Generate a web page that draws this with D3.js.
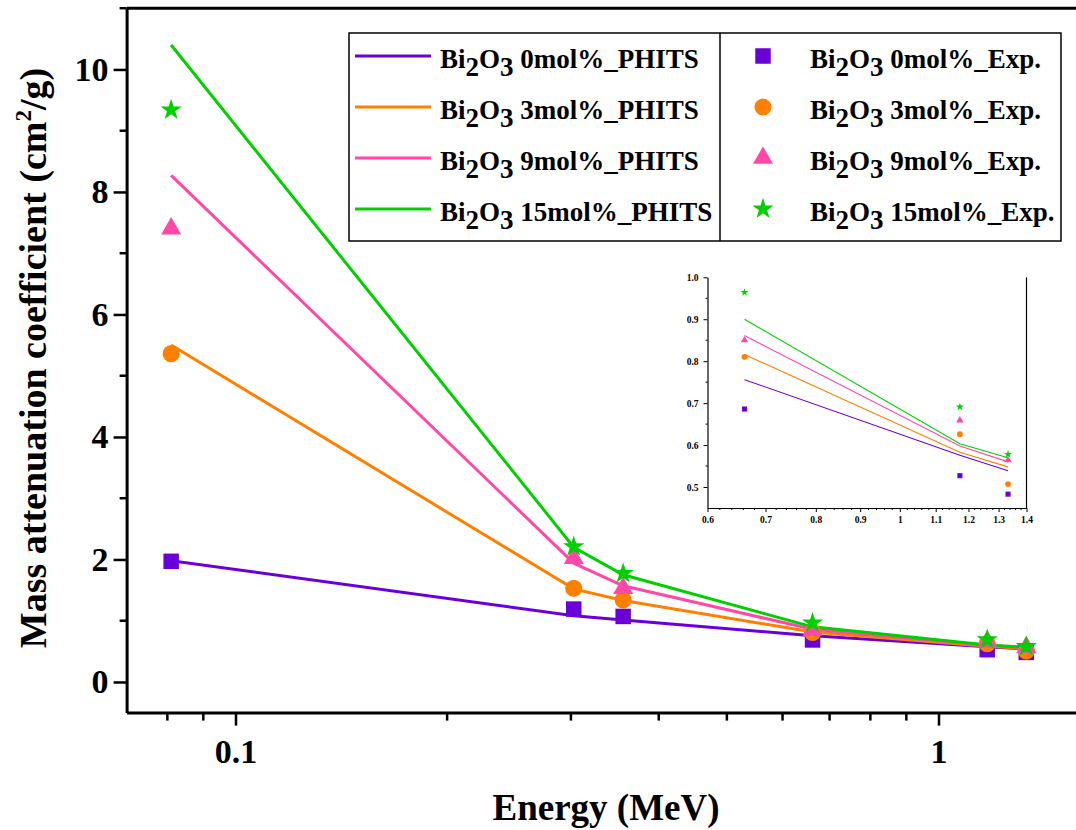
<!DOCTYPE html>
<html>
<head>
<meta charset="utf-8">
<script src="https://cdn.jsdelivr.net/npm/d3@7"></script>
<style>
  body{margin:0;background:#fff;}
  text{font-family:"Liberation Serif","Times New Roman",serif;font-weight:bold;}
</style>
</head>
<body>
<div id="grafica"></div>
<script>
// energias (MeV)
var energias=[0.081,0.3028,0.356,0.662,1.173,1.333];
var series=["Bi2O3 0mol%","Bi2O3 3mol%","Bi2O3 9mol%","Bi2O3 15mol%"];
var colores=["#6a00d8","#ff8000","#ff48a8","#00d000"];
var simbolos=[d3.symbolSquare,d3.symbolCircle,d3.symbolTriangle,d3.symbolStar];

// simulacion PHITS
var phits0=[1.98,1.08,1.01,0.756,0.576,0.539];
var phits3=[5.50,1.52,1.33,0.816,0.583,0.548];
var phits9=[8.27,1.94,1.57,0.861,0.598,0.560];
var phits15=[10.40,2.20,1.75,0.900,0.603,0.570];

// experimentales
var exp0=[1.97,1.19,1.07,0.686,0.527,0.483];
var exp3=[5.36,1.53,1.34,0.810,0.626,0.507];
var exp9=[7.40,2.02,1.53,0.850,0.659,0.564];
var exp15=[9.34,2.21,1.77,0.964,0.691,0.578];

var ticksY=[0,2,4,6,8,10];
var ticksX=[0.1,1];
var ticksInsetY=[0.5,0.6,0.7,0.8,0.9,1.0];
var ticksInsetX=[0.6,0.7,0.8,0.9,1,1.1,1.2,1.3,1.4];

grafica();
function grafica(){
	var ancho=1076, alto=830;
	var phits=[phits0,phits3,phits9,phits15];
	var exps=[exp0,exp3,exp9,exp15];

	var svg=d3.select("#grafica").append("svg")
		.attr("width",ancho).attr("height",alto);

	var x0=126.6, decada=703;
	var x=d3.scaleLog().domain([0.07,1.6])
		.range([x0,x0+decada*Math.log10(1.6/0.07)]);
	var y=d3.scaleLinear().domain([-0.5,11]).range([712.6,8.2]);

	//ejes principales
	var ejeX=svg.append("g").attr("transform",`translate(0,${y(-0.5)})`)
		.call(d3.axisBottom(x).tickValues(ticksX).tickFormat(d3.format("")).tickSize(13).tickSizeOuter(0).tickPadding(13));
	var menoresX=[0.08,0.09,0.2,0.3,0.4,0.5,0.6,0.7,0.8,0.9];
	ejeX.selectAll(".menor").data(menoresX).enter().append("line")
		.attr("class","menor").attr("x1",d=>x(d)).attr("x2",d=>x(d))
		.attr("y1",0).attr("y2",8);

	var ejeY=svg.append("g").attr("transform",`translate(${x0},0)`)
		.call(d3.axisLeft(y).tickValues(ticksY).tickSize(13).tickSizeOuter(0).tickPadding(5));
	ejeY.selectAll(".menor").data([1,3,5,7,9,11]).enter().append("line")
		.attr("class","menor").attr("y1",d=>y(d)).attr("y2",d=>y(d))
		.attr("x1",0).attr("x2",-7);

	// borde superior
	svg.append("line").attr("x1",x0).attr("x2",ancho)
		.attr("y1",y(11)).attr("y2",y(11))
		.style("stroke","#000").style("stroke-width",3);

	[ejeX,ejeY].forEach(function(e){
		e.select(".domain").style("stroke-width",3);
		e.selectAll("line").style("stroke","#000").style("stroke-width",2.5);
		e.selectAll("text").style("font-size","34px").style("fill","#000");
	});

	//titulos
	svg.append("text").attr("x",606).attr("y",820)
		.style("text-anchor","middle").style("font-size","37px")
		.text("Energy (MeV)");
	var tituloY=svg.append("text")
		.attr("transform","translate(46,358) rotate(-90)")
		.style("text-anchor","middle").style("font-size","38px");
	tituloY.append("tspan").text("Mass attenuation coefficient (cm");
	tituloY.append("tspan").text("2").style("font-size","23px").attr("dy",-15);
	tituloY.append("tspan").text("/g)").attr("dy",15);

	var linea=d3.line().x((d,i)=>x(energias[i])).y(d=>y(d));

	svg.selectAll(".lineas").data(phits).enter().append("path")
		.attr("class","lineas")
		.attr("d",linea)
		.style("fill","none")
		.style("stroke",(d,i)=>colores[i])
		.style("stroke-width",3);

	var tamanos=[240,230,175,140];
	exps.forEach(function(serie,k){
		svg.selectAll(".pt"+k).data(serie).enter().append("path")
			.attr("class","pt"+k)
			.attr("transform",(d,i)=>`translate(${x(energias[i])},${y(d)})`)
			.attr("d",d3.symbol().type(simbolos[k]).size(tamanos[k]))
			.style("fill",colores[k]);
	});

	//leyenda
	var ley=svg.append("g");
	ley.append("rect").attr("x",349).attr("y",33).attr("width",712).attr("height",208)
		.style("fill","#fff").style("stroke","#000").style("stroke-width",1.5);
	ley.append("line").attr("x1",720).attr("x2",720).attr("y1",33).attr("y2",241)
		.style("stroke","#000").style("stroke-width",1.5);
	series.forEach(function(s,k){
		var yy=56+k*51;
		ley.append("line").attr("x1",355).attr("x2",431).attr("y1",yy).attr("y2",yy)
			.style("stroke",colores[k]).style("stroke-width",3);
		ley.append("path").attr("transform",`translate(763,${yy})`)
			.attr("d",d3.symbol().type(simbolos[k]).size(tamanos[k]))
			.style("fill",colores[k]);
		etiqueta(ley,440,yy+12,s.split(" ")[1]+"_PHITS");
		etiqueta(ley,810,yy+12,s.split(" ")[1]+"_Exp.");
	});
	function etiqueta(g,px,py,resto){
		var t=g.append("text").attr("x",px).attr("y",py).style("font-size","27px");
		t.append("tspan").text("Bi");
		t.append("tspan").text("2").attr("dy",8);
		t.append("tspan").text("O").attr("dy",-8);
		t.append("tspan").text("3").attr("dy",8);
		t.append("tspan").text(" "+resto).attr("dy",-8);
	}

	//recuadro interior
	var xi=d3.scaleLog().domain([0.6,1.4]).range([707.5,1026.5]);
	var yi=d3.scaleLinear().domain([0.45,1.0]).range([508,277.3]);
	var ins=svg.append("g");
	var ejeXi=ins.append("g").attr("transform",`translate(0,508)`)
		.call(d3.axisBottom(xi).tickValues(ticksInsetX).tickFormat(d3.format("")).tickSize(4).tickSizeOuter(0).tickPadding(4));
	ejeXi.selectAll(".menor").data(d3.range(0.62,1.4,0.02).filter(d=>Math.abs(d*10-Math.round(d*10))>0.01))
		.enter().append("line").attr("class","menor")
		.attr("x1",d=>xi(d)).attr("x2",d=>xi(d)).attr("y1",0).attr("y2",2);
	var ejeYi=ins.append("g").attr("transform",`translate(707.5,0)`)
		.call(d3.axisLeft(yi).tickValues(ticksInsetY).tickFormat(d3.format(".1f")).tickSize(4).tickSizeOuter(0).tickPadding(5));
	ejeYi.selectAll(".menor").data([0.55,0.65,0.75,0.85,0.95])
		.enter().append("line").attr("class","menor")
		.attr("y1",d=>yi(d)).attr("y2",d=>yi(d)).attr("x1",0).attr("x2",-2);
	ins.append("line").attr("x1",1026.5).attr("x2",1026.5).attr("y1",277.3).attr("y2",508)
		.style("stroke","#000").style("stroke-width",1.2);
	[ejeXi,ejeYi].forEach(function(e){
		e.select(".domain").style("stroke-width",1.2);
		e.selectAll("line").style("stroke","#000").style("stroke-width",1);
		e.selectAll("text").style("font-size","9.5px").style("fill","#000");
	});
	ejeYi.selectAll(".tick text").text(d=>d==1?"1.0":d3.format(".1f")(d));
	ejeXi.selectAll(".tick text").text(d=>String(d));

	var lineaIns=d3.line().x((d,i)=>xi(energias[i+3])).y(d=>yi(d));
	ins.selectAll(".lins").data(phits.map(s=>s.slice(3))).enter().append("path")
		.attr("class","lins").attr("d",lineaIns)
		.style("fill","none").style("stroke",(d,i)=>colores[i]).style("stroke-width",1.1);
	var tamIns=[26,26,24,20];
	exps.forEach(function(serie,k){
		ins.selectAll(".pi"+k).data(serie.slice(3)).enter().append("path")
			.attr("class","pi"+k)
			.attr("transform",(d,i)=>`translate(${xi(energias[i+3])},${yi(d)})`)
			.attr("d",d3.symbol().type(simbolos[k]).size(tamIns[k]))
			.style("fill",colores[k]);
	});
}
</script>
</body>
</html>
